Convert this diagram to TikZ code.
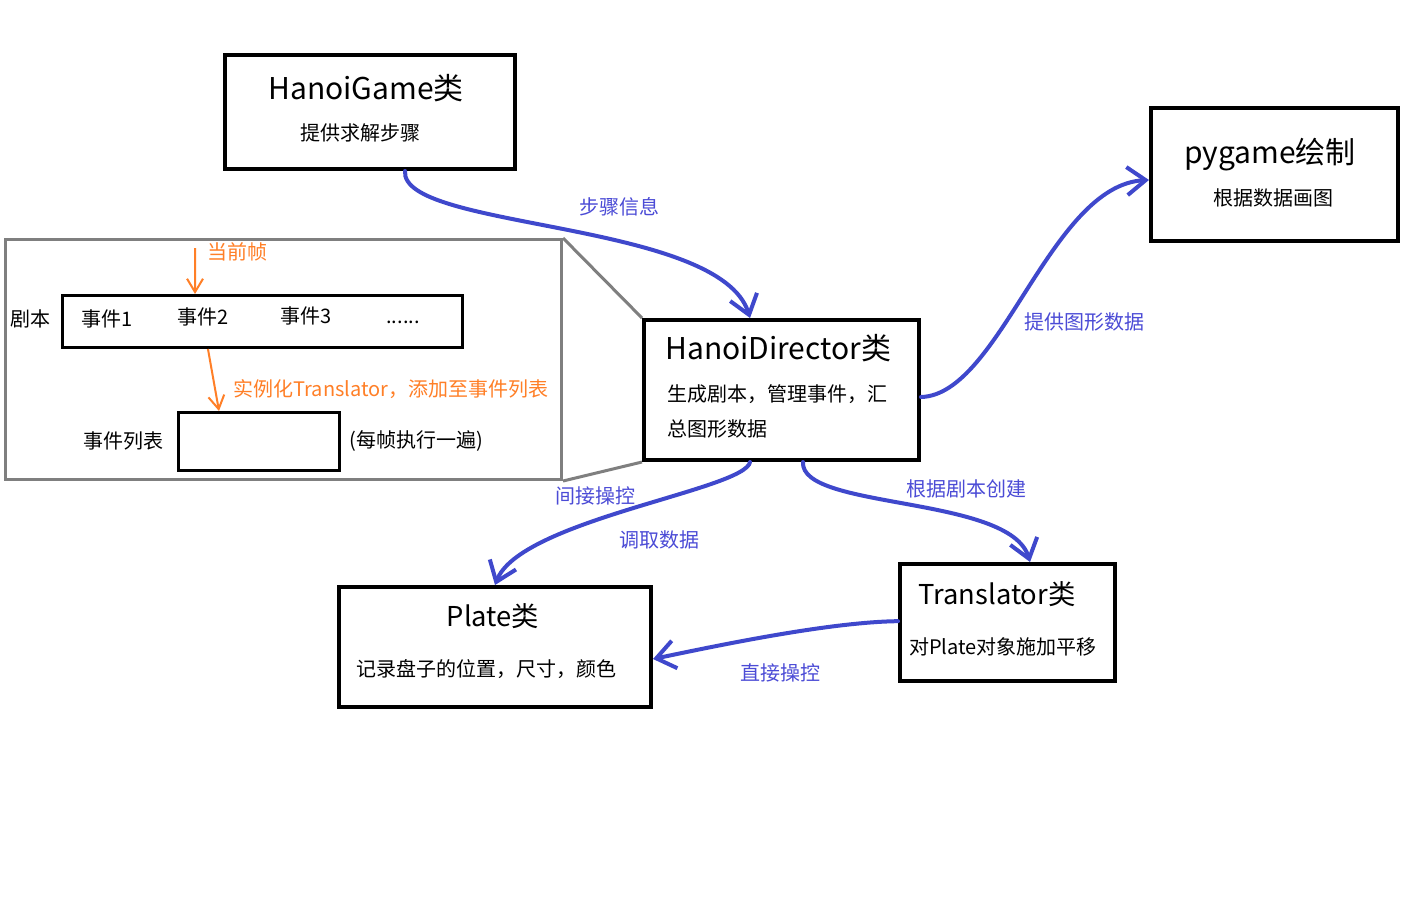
\documentclass[tikz,border=0pt]{standalone}
\usepackage{fontspec}
\setmainfont{Noto Sans CJK SC}
\usetikzlibrary{arrows.meta,calc}
\definecolor{arrowblue}{HTML}{3F48CC}
\definecolor{labelblue}{HTML}{4B4BD6}
\definecolor{paintorange}{HTML}{FF7F27}
\definecolor{framegray}{HTML}{7F7F7F}
\tikzset{
  box/.style={draw=black, line width=3pt, rectangle, inner sep=0pt},
  thinbox/.style={draw=black, line width=2.25pt, rectangle, inner sep=0pt},
  framebox/.style={draw=framegray, line width=2.25pt, rectangle, inner sep=0pt},
  bigtitle/.style={font=\fontsize{22.5}{27}\selectfont, inner sep=0pt},
  midtitle/.style={font=\fontsize{20.5}{24}\selectfont, inner sep=0pt},
  sub/.style={font=\fontsize{15}{18}\selectfont, inner sep=0pt},
  bluelbl/.style={sub, text=labelblue},
  orlbl/.style={sub, text=paintorange},
  flow/.style={draw=arrowblue, line width=3pt, line cap=round, -{Straight Barb[length=14pt,width=21pt]}},
  oflow/.style={draw=paintorange, line width=1.5pt, -{Straight Barb[length=10pt,width=12pt]}},
  link/.style={draw=framegray, line width=2.25pt}
}
\begin{document}
\begin{tikzpicture}[x=0.75pt,y=-0.75pt]
\useasboundingbox (0,0) rectangle (1426,896);
\fill[white] (0,0) rectangle (1426,896);

% boxes
\node[box, minimum width=217.5pt, minimum height=85.5pt] (game) at (370,112) {};
\node[box, minimum width=185.25pt, minimum height=99.75pt] (pyg) at (1274.5,174.5) {};
\node[box, minimum width=206.25pt, minimum height=105pt] (dir) at (781.5,390) {};
\node[box, minimum width=234pt, minimum height=90pt] (plate) at (495,647) {};
\node[box, minimum width=161.25pt, minimum height=87.75pt] (trans) at (1007.5,622.5) {};
\node[framebox, minimum width=417pt, minimum height=180pt] (frame) at (283.5,359.5) {};
\node[thinbox, minimum width=300pt, minimum height=39pt] (scr) at (262.5,321.5) {};
\node[thinbox, minimum width=120.75pt, minimum height=43.5pt] (evt) at (259,441.5) {};

% frame links
\draw[link] (frame.north east) -- (dir.north west);
\draw[link] (frame.south east) -- (dir.south west);

% box texts
\node[bigtitle] (gameT) at (366,88) {HanoiGame类};
\node[sub] (gameS) at (360,133) {提供求解步骤};
\node[bigtitle] (pygT) at (1270,155) {pygame绘制};
\node[sub] (pygS) at (1273,198) {根据数据画图};
\node[bigtitle, anchor=west] (dirT) at (665,348) {HanoiDirector类};
\node[sub, anchor=west] (dirS1) at (667,394) {生成剧本，管理事件，汇};
\node[sub, anchor=west] (dirS2) at (667,429) {总图形数据};
\node[midtitle] (plateT) at (493,616) {Plate类};
\node[sub] (plateS) at (486,669) {记录盘子的位置，尺寸，颜色};
\node[midtitle] (transT) at (997,594) {Translator类};
\node[sub] (transS) at (1003,647) {对Plate对象施加平移};

% inner frame texts
\node[sub] (jb) at (30,319) {剧本};
\node[sub] (e1) at (107,319) {事件1};
\node[sub] (e2) at (203,317) {事件2};
\node[sub] (e3) at (306,316) {事件3};
\node[sub, anchor=base] (dots) at (403,323) {......};
\node[sub] (evl) at (123,441) {事件列表};
\node[sub] (every) at (416,441) {(每帧执行一遍)};
\node[orlbl] (cur) at (237,252) {当前帧};
\node[orlbl] (inst) at (391,389) {实例化Translator，添加至事件列表};
\coordinate (curtop) at (195,248);

% orange arrows
\draw[oflow] (curtop) -- ([xshift=-50.6pt]scr.north);
\draw[oflow] ([xshift=-40.9pt]scr.south) -- ([xshift=-30pt]evt.north);

% blue arrows
\draw[flow] ([xshift=26.25pt]game.south) .. controls (400,230) and (720,220) .. ([xshift=-23.6pt]dir.north);
\draw[flow] ([yshift=-5.25pt]dir.east) .. controls (1000,395) and (1050,185) .. ([yshift=-4.1pt]pyg.west);
\draw[flow] ([xshift=-23.6pt]dir.south) .. controls (745,490) and (520,520) .. (plate.north);
\draw[flow] ([xshift=16.1pt]dir.south) .. controls (800,510) and (1010,495) .. ([xshift=16.9pt]trans.north);
\draw[flow] ([yshift=1pt]trans.west) .. controls (830,622) and (720,645) .. ([yshift=-9pt]plate.east);

% blue labels
\node[bluelbl] (l1) at (619,207) {步骤信息};
\node[bluelbl] (l2) at (1084,322) {提供图形数据};
\node[bluelbl] (l3) at (595,496) {间接操控};
\node[bluelbl] (l4) at (659,540) {调取数据};
\node[bluelbl] (l5) at (966,489) {根据剧本创建};
\node[bluelbl] (l6) at (780,673) {直接操控};
\end{tikzpicture}
\end{document}
